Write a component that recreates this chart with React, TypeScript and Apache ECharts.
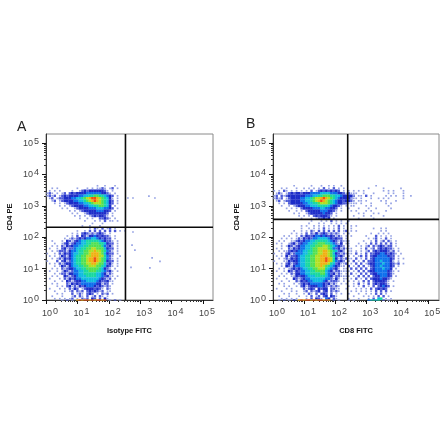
import React, { useEffect, useRef } from "react";
import * as echarts from "echarts";

// ---- axis values -------------------------------------------------------
const decades = [1, 10, 100, 1000, 10000, 100000];
const minorMantissas = [2, 3, 4, 5, 6, 7, 8, 9];
const xMaxA = 208900;
const xMaxB = 220800;
const yMax = 194900;
const gateA = { x: 340, y: 207 };
const gateB = { x: 254, y: 372 };
const binDecades = 0.08;

// ---- density levels: . none, 1-9, a = densest ----------------------------
const aUpper = [
  "....................1..1...1",
  "..1.1.......1...1.1.1121.12.1",
  ".1.1.1....1..12323333332" + "1.1",
  "121.1.12." + "2323333444444332" + "1.1",
  "1212.1" + "23233334455667766543" + "2.1",
  ".12.12" + "233344556789aa987653" + "1.1",
  "..12.1" + "2333344556789a987653" + "2.1",
  "...1.1.1" + "233334455678887653" + "2.1",
  ".....1.1.1" + "2333344556677653" + ".1",
  "......1.1..1" + "23333444555443" + "2.1",
  ".........1.1.1" + "23333344433" + "2.1",
  "..........1.1..1" + "233333332" + ".1",
  "...........1.1.1.1" + "232332" + "1.1",
  ".............1..1.1..22321.1",
  "...............1...1.1.2.11.1",
  "..................1...1..",
  "..............1..1...1..",
];

const aLower = [
  ".................1.21.2.12.1",
  "............1..1.2.2.2.2.2.2.1.1",
  "..........1.1." + "2321212321" + ".1",
  "........1.1." + "2.32133432322" + "1.1",
  ".......1.1" + "212323445543232" + "2.1",
  "..1...1." + "32123455666665432" + "21.1",
  "...1..1" + "2312344556677766532" + "2.1",
  "..1.1.2" + "1323445566777776423" + "1.1",
  ".1..1.2" + "3122455667788777532" + "2.1",
  "..1.12" + "22134456677889887642" + "1.1",
  "1..1.2" + "13234556677899987532" + "2.1",
  ".1.1.1" + "32134566778899988642" + "1..1",
  "..1.12" + "1323456677899a987642" + "1.1",
  "1...2." + "2312456677899a987632" + "2.1",
  ".1.1.2" + "12334566778899877523" + "1.1",
  "...1.1" + "32134556677888776532" + "1.1",
  "..1.1.2" + "1233455667777765321" + ".1",
  ".1..1.1" + "3212445566777665423" + "1.1",
  "...1.12" + "2133445566666554312" + "1",
  "..1.1.." + "3212345556666554231" + "1.1",
  ".1...1." + "2132344555555543212" + ".1",
  "...1..1." + "321233445555432231" + "1",
  "..1.1..." + "21323244444433122" + ".1",
  "....1.1." + "23121323444323212" + "1",
  ".1...1.1." + "2132.123332321.2" + "1",
  "...1...1." + "12.212.2323212.1" + "1",
  "....1.1..." + "2.121.232.1.212" + ".1",
  "..1...1..." + "12.21.2.12.21.1",
  "...1.1.1.1" + "2.1.212.32.2.31",
];

const aEdge = ["......1.2.1." + "9a9aa9a9aa9a" + ".1.2.1"];

// sparse events in panel A, [FITC, PE]
const aStrayX = [407, 590, 1900, 2950, 590, 550, 680, 2400, 4270, 2040, 510];
const aStrayY = [1780, 1780, 2050, 1780, 147, 56, 39, 22, 17, 10.5, 11];

const bUpper = [
  "........1......1...1..1.1..1",
  "...1.1...1..1.1.1.1.2.1.2.1.1",
  "1.1.21.1.1.1.1.2.1232323232.1.1.1",
  ".121.1" + "23233233344445555444332" + "12.1",
  "12.212" + "33333334445566777665543" + "3332.1",
  "1212.1" + "23333445567889a98765433" + "3321",
  ".12.12" + "23333445567" + "89a98" + "7654332" + "3321.1",
  "..1.1.2" + "3333344556678887654332" + "21.1",
  "...1..1.1" + "233344555666654332" + "1.1.1",
  ".....1.1.1." + "233334445544332" + ".1..1",
  "......1..1.1." + "233333444332" + "1.1",
  "........1.1..1" + "2333334332" + ".1",
  "..........1.1.1." + "2323332" + "1.1",
  "...........1...1.1" + "22323" + ".1",
  "...............1...1.1.2.1.1..1",
  "..............1...1.1..1.1.1.1",
  "...........1.1..1.1.1.1.1.2.1..1.1",
];

const bDoublePositive = [
  "..........1",
  ".......1.....1......1",
  "...1.1.......1.1.1...1",
  "1.1..1...1.....1.1...1",
  ".1..1.2.1.....1.1.1..1..1",
  "1.1.1...1..1.1.1.....1",
  ".1..1.1.....1.1...1",
  "1.1.1...1.....1.1",
  ".1....1.1......1",
  "...1...1..1.....1",
  "1.1...1.1.....1",
  "...1.1...1.1.....",
  ".1...1..1....1",
  "...1.....1",
];

const bLower = [
  "...........1..1.1.1.2.1.1.2.1..1",
  "........1..1.1.21.2.2.2.2.2.12.1.1",
  ".......1.1.1." + "2.21312321212" + "1.1.1",
  "....1.1..1." + "2132234434323212" + "1.1.1",
  "...1.1.1.1" + "21323244555543232" + "2.1",
  "..1.1..1" + "12323445566666543212" + "1.1",
  ".1.1..1" + "231234455667776654213" + ".1",
  "...1.1" + "3212344556677788765432" + "1.1",
  ".1.1.." + "2132344556778888764231" + "2.1",
  "..1.1" + "12323445566778899876523" + "1.1",
  "1..1." + "23124445566778899875321" + "2.1",
  ".1.1." + "31223455667788999876423" + "1.1",
  "..1.1" + "2132345566778899a986312" + "1.1",
  "1...1" + "1323345566778899a986423" + "2.1",
  ".1.1." + "23123455667788999865231" + "1",
  "...1." + "32134455667788987654321" + "1.1",
  "..1.1." + "123234556677888654231" + ".1",
  ".1..1." + "321324455667777543122" + "1.1",
  "...1.1." + "21334455666677542312" + "1",
  "..1.1..1" + "1323345556666543122" + "1.1",
  ".1...1.." + "3212344555555442131" + ".1",
  "...1..1.." + "21323445555431222" + "1",
  "..1.1...1." + "1232344444323121" + ".1",
  "....1.1..1." + "231233344321212" + "1",
  ".1...1.1...." + "21232.3233.221" + "1",
  "...1...1.1..1" + "2.2123.23.212" + "1",
  "....1.1..1..1." + "21.2.232.2.1" + ".1",
  "..1...1...1..1." + "2.12.23.321",
  "...1.1.1.1...1." + "2.321.43.21",
];

const bBlob = [
  "............1..1.1",
  "...............1.1.",
  "...........1..1.1.1",
  ".........1...2.1.1.1",
  "..........1.12.1.2.1.",
  ".1......1..1.2.12.21.1",
  "..1...1..1.2.2.2.2.2.1",
  "1....1.1.12.21232122.1",
  ".1.1...1.2.12.2323221.1",
  "1..1.1.1.12.232333212.1.",
  ".1.1.2.1.2.22334432321.1",
  "1.1.1.12.2.2334444322.1",
  ".2.1.2.1.2.2344444432.1.1",
  "1.1.2.1.2.22344544431.1",
  ".2.1.2.2.12334445443212.1",
  "1.2.1.2.2.12344544432.1",
  ".1.2.2.2.2.234445443.1",
  "1.1.1.2.2.23344444321.1",
  ".1.2.1.2.2.2334444321",
  "1.1.1.2.2.2.23344432.1",
  ".1.1.2.1.2.233343321",
  "1.1.1.1.2.2.2333321.1",
  ".1..1.2.1.2.2323321",
  "..1.1.1.2.1.2.23432.1",
  ".1...1.1.1.2.23232.",
  "...1.1.1.1.1.2.2.2.1",
  "..1...1..1.1.2.2.1.",
  "....1...1.1.1.2.2.1",
  "..1...1...1.2.56.1.1",
];

const bEdge = ["..1.2.1.3." + "9a9aa9a9aa9a9" + ".2.1...1.1." + "...." + "45656" + ".2.1"];

const palette = [
  "#95a2e4", "#4c5ad8", "#1c2cc8", "#0e70ec", "#10bce0",
  "#18d8a0", "#50e050", "#b0e020", "#f0b010", "#f05010",
];

const bottomRow = 47.5;

function decode(rows: string[], firstCol: number, firstRow: number) {
  const out: number[][] = [];
  rows.forEach((row, k) => {
    for (let i = 0; i < row.length; i++) {
      const ch = row[i];
      if (ch === ".") continue;
      const level = ch === "a" ? 10 : Number(ch);
      const ex = (firstCol + i + 0.5) * binDecades;
      const ey = (bottomRow - (firstRow + k)) * binDecades;
      out.push([Math.pow(10, ex), Math.pow(10, ey), level]);
    }
  });
  return out;
}

function tickLabel(v: number) {
  return `{b|10}{s|${Math.round(Math.log10(v))}}`;
}

const minorValues = decades
  .slice(0, 5)
  .flatMap((d) => minorMantissas.map((m) => m * d));

const richLabel = {
  b: { fontSize: 9, color: "#444", fontFamily: "Liberation Sans" },
  s: {
    fontSize: 9,
    color: "#444",
    fontFamily: "Liberation Sans",
    verticalAlign: "top",
    padding: [0, 0, 4, 1],
  },
};

function axisPair(kind: "x" | "y", grid: number, max: number, name: string) {
  const common = {
    type: "log",
    logBase: 10,
    min: 1,
    max,
    gridIndex: grid,
    position: kind === "x" ? "bottom" : "left",
  };
  const major: any = {
    ...common,
    name,
    nameLocation: "middle",
    nameGap: kind === "x" ? 26 : 33,
    nameTextStyle: {
      fontFamily: "Liberation Sans",
      fontWeight: "bold",
      fontSize: 7.5,
      color: "#111",
    },
    axisLine: { show: true, onZero: false, lineStyle: { color: "#333", width: 1 } },
    axisTick: {
      show: true,
      length: 4,
      customValues: decades,
      lineStyle: { color: "#111", width: 1 },
    },
    axisLabel: {
      show: true,
      customValues: decades,
      formatter: tickLabel,
      rich: richLabel,
      margin: kind === "x" ? 6 : 7,
      padding: kind === "x" ? [0, 0, 0, 8] : 0,
      hideOverlap: false,
    },
    splitLine: { show: false },
  };
  const minor: any = {
    ...common,
    axisLine: { show: false },
    axisTick: {
      show: true,
      length: 2,
      customValues: minorValues,
      lineStyle: { color: "#333", width: 1 },
    },
    axisLabel: { show: false },
    splitLine: { show: false },
  };
  return [major, minor];
}

function cellSize(value: number[]) {
  const level = value[2];
  if (level <= 1) return 1.7;
  if (level === 2) return 2.4;
  return 2.7;
}

function density(data: number[][], xAxisIndex: number, yAxisIndex: number, size: any = cellSize) {
  return {
    type: "scatter",
    xAxisIndex,
    yAxisIndex,
    data,
    symbol: "rect",
    symbolSize: size,
    silent: true,
    itemStyle: { opacity: 1 },
    z: 2,
    clip: false,
  };
}

function gate(points: number[][], xAxisIndex: number, yAxisIndex: number) {
  return {
    type: "line",
    xAxisIndex,
    yAxisIndex,
    data: points,
    showSymbol: false,
    silent: true,
    lineStyle: { color: "#0a0a0a", width: 1.6 },
    z: 5,
  };
}

export default function App() {
  const ref = useRef<HTMLDivElement>(null);
  useEffect(() => {
    const chart = echarts.init(ref.current!, null, { renderer: "svg" });
    const densitySeries = [
      density(decode(aLower, 0, 19), 0, 0),
      density(decode(aUpper, 0, 2), 0, 0),
      density(decode(aEdge, 0, bottomRow), 0, 0, [2.6, 1.2]),
      density(aStrayX.map((x, i) => [x, aStrayY[i], 1]), 0, 0),
      density(decode(bLower, 0, 19), 2, 2),
      density(decode(bUpper, 0, 2), 2, 2),
      density(decode(bBlob, 28, 19), 2, 2),
      density(decode(bDoublePositive, 31, 2), 2, 2),
      density(decode(bEdge, 0, bottomRow), 2, 2, [2.6, 1.2]),
    ];
    chart.setOption({
      animation: false,
      backgroundColor: "#ffffff",
      title: [
        {
          text: "A",
          left: 17,
          top: 119,
          padding: 0,
          textStyle: { fontFamily: "Liberation Sans", fontSize: 14, fontWeight: "normal", color: "#222" },
        },
        {
          text: "B",
          left: 246,
          top: 116,
          padding: 0,
          textStyle: { fontFamily: "Liberation Sans", fontSize: 14, fontWeight: "normal", color: "#222" },
        },
      ],
      grid: [
        { left: 46, top: 134, width: 167, height: 166, show: true, borderColor: "#8a8a8a", borderWidth: 1, backgroundColor: "transparent", outerBoundsMode: "none" },
        { left: 273, top: 134, width: 166, height: 166, show: true, borderColor: "#8a8a8a", borderWidth: 1, backgroundColor: "transparent", outerBoundsMode: "none" },
      ],
      xAxis: [
        ...axisPair("x", 0, xMaxA, "Isotype FITC"),
        ...axisPair("x", 1, xMaxB, "CD8 FITC"),
      ],
      yAxis: [
        ...axisPair("y", 0, yMax, "CD4 PE"),
        ...axisPair("y", 1, yMax, "CD4 PE"),
      ],
      visualMap: {
        show: false,
        type: "continuous",
        seriesIndex: densitySeries.map((_, i) => i),
        dimension: 2,
        min: 1,
        max: 10,
        inRange: { color: palette },
      },
      series: [
        ...densitySeries,
        gate([[gateA.x, 1], [gateA.x, yMax]], 0, 0),
        gate([[1, gateA.y], [xMaxA, gateA.y]], 0, 0),
        gate([[gateB.x, 1], [gateB.x, yMax]], 2, 2),
        gate([[1, gateB.y], [xMaxB, gateB.y]], 2, 2),
      ],
    });
    return () => chart.dispose();
  }, []);
  return (
    <div
      ref={ref}
      style={{ position: "absolute", left: 0, top: 0, width: 440, height: 441, filter: "blur(0.4px)" }}
    />
  );
}
